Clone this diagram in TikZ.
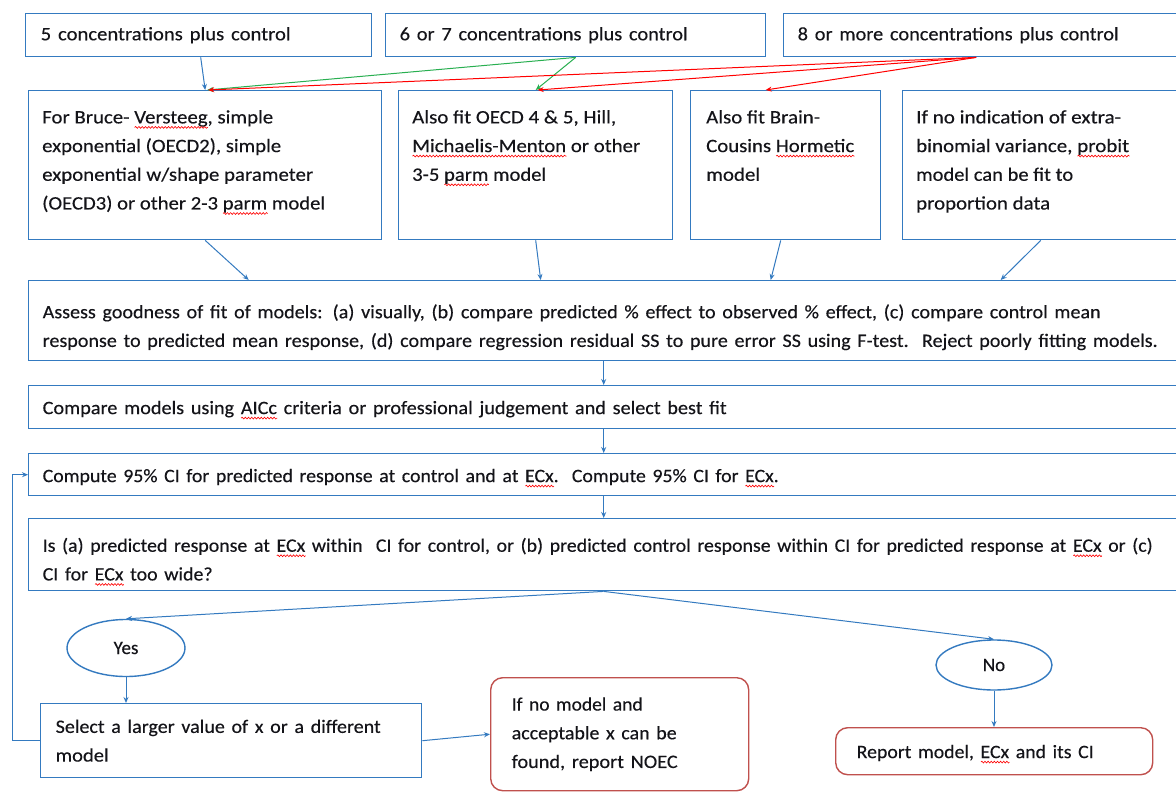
\documentclass[tikz,border=0pt]{standalone}
\usepackage{fontspec}
\setmainfont{Carlito}[FakeBold=0.3]
\usepackage{graphicx}
\usetikzlibrary{arrows.meta,shapes.geometric,calc,decorations.pathmorphing}

\definecolor{bblue}{RGB}{52,122,192}
\definecolor{redbox}{RGB}{192,80,77}
\definecolor{gline}{RGB}{40,175,80}
\definecolor{rline}{RGB}{255,0,0}
\definecolor{txtc}{RGB}{20,20,25}

\newcommand\W[2]{\resizebox{#1pt}{\height}{#2}}
\newcommand\up[1]{\rule{0pt}{#1pt}}
\newsavebox\sqbox
\newcommand\sq[1]{\sbox\sqbox{#1}\rlap{\usebox\sqbox}\makebox[\wd\sqbox][l]{\raisebox{-4pt}{\tikz[baseline=0pt,sharp corners]\draw[red,line width=0.6pt,sharp corners,decorate,decoration={snake,amplitude=0.9pt,segment length=3pt}] (0pt,0pt) -- (\wd\sqbox,0pt);}}}

\begin{document}
\begin{tikzpicture}[x=1pt,y=-1pt,
  box/.style={draw=bblue, line width=1.4pt, inner sep=0pt, anchor=north west},
  rbx/.style={draw=redbox, line width=1.4pt, rounded corners=12pt, inner sep=0pt, anchor=north west},
  f/.style={font=\fontsize{19}{28.7}\selectfont, text=txtc},
  tx/.style={f, align=left, inner sep=0pt, anchor=north west},
  arr/.style={draw=bblue, line width=1pt, -{Stealth[length=6pt,width=5pt]}},
  garr/.style={draw=gline, line width=1pt, -{Stealth[length=6pt,width=5pt]}},
  rarr/.style={draw=rline, line width=1pt, -{Stealth[length=6pt,width=5pt]}},
  oval/.style={draw=bblue, line width=1.4pt, ellipse, inner sep=0pt, f}
]
\useasboundingbox[fill=white] (0,0) rectangle (1176,792);

% top row
\node[box,f,align=left,text width=316pt,inner xsep=15pt,minimum height=43pt] (A) at (25,13) {\W{250}{5 concentrations plus control}};
\node[box,f,align=left,text width=352pt,inner xsep=14pt,minimum height=43pt] (B) at (385,13) {\W{288}{6 or 7 concentrations plus control}};
\node[box,f,align=left,text width=389pt,inner xsep=14pt,minimum height=43pt] (C) at (783,13) {\W{321}{8 or more concentrations plus control}};

% second row
\node[box,minimum width=353pt,minimum height=149pt] (D) at (28,90) {};
\node[tx] (Dt) at (42,110) {\W{231}{For Bruce- \sq{Versteeg}, simple}\\\W{239}{exponential (OECD2), simple}\\\W{271}{exponential w/shape parameter}\\\W{283}{(OECD3) or other 2-3 \sq{parm} model}};
\node[box,minimum width=274pt,minimum height=149pt] (E) at (398,90) {};
\node[tx] (Et) at (412,110) {\W{204}{Also fit OECD 4 \& 5, Hill,}\\\W{228}{\sq{Michaelis-Menton} or other}\\\W{134}{3-5 \sq{parm} model}};
\node[box,minimum width=190pt,minimum height=149pt] (F) at (690,90) {};
\node[tx] (Ft) at (706,110) {\W{114}{Also fit Brain-}\\\W{148}{Cousins \sq{Hormetic}}\\\W{54}{model}};
\node[box,minimum width=298pt,minimum height=149pt] (G) at (902,90) {};
\node[tx] (Gt) at (916,110) {\W{205}{If no indication of extra-}\\\W{213}{binomial variance, \sq{probit}}\\\W{157}{model can be fit to}\\\W{134}{proportion data}};

% wide boxes
\node[box,f,align=left,text width=1144pt,inner xsep=14pt,minimum height=80pt] (H) at (28,280) {\up{27}\W{1058}{Assess goodness of fit of models: (a) visually, (b) compare predicted \% effect to observed \% effect, (c) compare control mean}\\\W{1115}{response to predicted mean response, (d) compare regression residual SS to pure error SS using F-test.\ \ Reject poorly fitting models.}};
\node[box,f,align=left,text width=1144pt,inner xsep=14pt,minimum height=43pt] (I) at (28,385) {\up{19}\W{684}{Compare models using \sq{AICc} criteria or professional judgement and select best fit}};
\node[box,f,align=left,text width=1144pt,inner xsep=14pt,minimum height=42pt] (J) at (28,453) {\up{20}\W{736}{Compute 95\% CI for predicted response at control and at \sq{ECx}.\ \ Compute 95\% CI for \sq{ECx}.}};
\node[box,f,align=left,text width=1144pt,inner xsep=14pt,minimum height=72pt] (K) at (28,518) {\up{28}\W{1110}{Is (a) predicted response at \sq{ECx} within\ \ CI for control, or (b) predicted control response within CI for predicted response at \sq{ECx} or (c)}\\\W{170}{CI for \sq{ECx} too wide?}};

% decisions
\node[oval,minimum width=118pt,minimum height=57pt] (Y) at (126,648) {Yes};
\node[oval,minimum width=116pt,minimum height=50pt] (No) at (994,665) {No};

% bottom boxes
\node[box,f,align=left,text width=351pt,inner xsep=15pt,minimum height=74pt] (L) at (40,703) {\W{325}{Select a larger value of x or a different}\\\W{53}{model}};
\node[rbx,f,align=left,text width=216pt,inner xsep=21pt,minimum height=113pt] (M) at (490,677) {\W{131}{If no model and}\\\W{165}{acceptable x can be}\\\W{166}{found, report NOEC}};
\node[rbx,f,align=left,text width=275pt,inner xsep=21pt,minimum height=47pt] (N) at (835,727) {\up{19}\W{237}{Report model, \sq{ECx} and its CI}};

% connectors top
\draw[arr] ([xshift=2pt]A.south) -- (D.north);
\draw[garr] (B.south) -- ([xshift=2pt]D.north);
\draw[garr] (B.south) -- (E.north);
\draw[rarr] ([xshift=-16pt]C.south) -- ([xshift=3pt]D.north);
\draw[rarr] ([xshift=-16pt]C.south) -- ([xshift=2pt]E.north);
\draw[rarr] ([xshift=-16pt]C.south) -- ([xshift=-20pt]F.north);

% second row to H
\draw[arr] (D.south) -- ([xshift=-366pt]H.north);
\draw[arr] (E.south) -- ([xshift=-74pt]H.north);
\draw[arr] ([xshift=-5pt]F.south) -- ([xshift=156pt]H.north);
\draw[arr] ([xshift=-11pt]G.south) -- ([xshift=386pt]H.north);

% vertical chain
\draw[arr] ([xshift=-11pt]H.south) -- ([xshift=-11pt]I.north);
\draw[arr] ([xshift=-11pt]I.south) -- ([xshift=-11pt]J.north);
\draw[arr] ([xshift=-11pt]J.south) -- ([xshift=-11pt]K.north);

% decision
\draw[arr] ([xshift=-11pt]K.south) -- (Y.north);
\draw[arr] ([xshift=-11pt]K.south) -- (No.north);
\draw[arr] (Y.south) -- (Y.south |- L.north);
\draw[arr] (No.south) -- (No.south |- N.north);
\draw[arr] (L.east) -- (M.west);
\draw[arr] (L.west) -- ++(-28pt,0) |- (J.west);
\end{tikzpicture}
\end{document}
